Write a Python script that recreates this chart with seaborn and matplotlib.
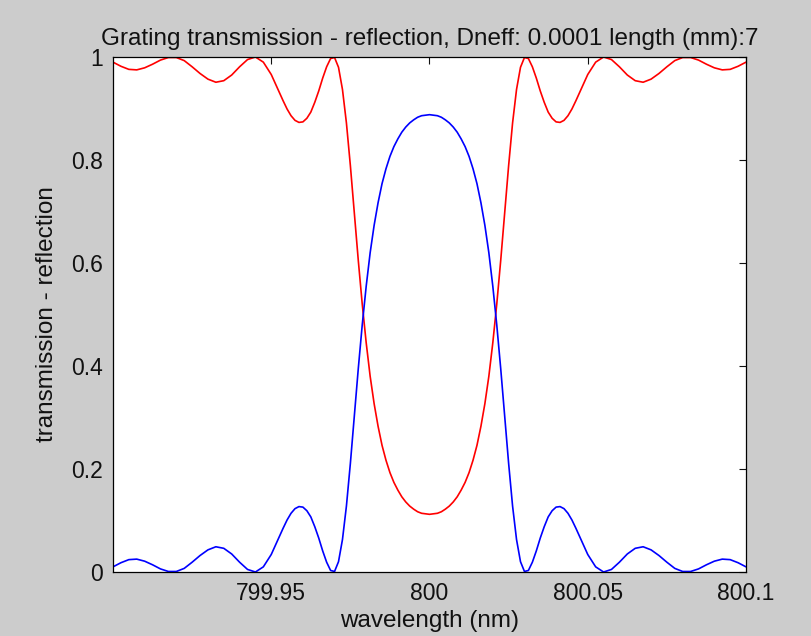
import matplotlib
matplotlib.use("Agg")
import matplotlib.pyplot as plt
import seaborn as sns
import pandas as pd

# Offsets from the Bragg wavelength (nm), left half (symmetric curve)
offset_left = [-0.1, -0.0975, -0.095, -0.0925, -0.09, -0.0875, -0.085, -0.0825, -0.08, -0.0775,
               -0.075, -0.0725, -0.07, -0.0675, -0.065, -0.0625, -0.06, -0.0575, -0.055, -0.0525,
               -0.05, -0.0475, -0.04625, -0.045, -0.04375, -0.0425, -0.04125, -0.04, -0.03875, -0.0375,
               -0.03625, -0.035, -0.03375, -0.0325, -0.03125,
               -0.03, -0.02875, -0.0275, -0.02625, -0.025, -0.02375, -0.0225, -0.02125, -0.02, -0.01875,
               -0.0175, -0.01625, -0.015, -0.01375, -0.0125, -0.01125, -0.01, -0.00875, -0.0075, -0.00625,
               -0.005, -0.00375, -0.0025, -0.00125]
refl_left = [0.010, 0.018, 0.024, 0.025, 0.021, 0.014, 0.006, 0.001, 0.001, 0.007,
             0.019, 0.032, 0.043, 0.049, 0.046, 0.035, 0.019, 0.005, 0.000, 0.010,
             0.034, 0.068, 0.085, 0.101, 0.114, 0.123, 0.127, 0.126, 0.119, 0.107,
             0.088, 0.066, 0.041, 0.019, 0.003,
             0.001, 0.020, 0.063, 0.128, 0.211, 0.303, 0.395, 0.480, 0.555, 0.620,
             0.673, 0.717, 0.754, 0.783, 0.807, 0.826, 0.841, 0.854, 0.864, 0.872,
             0.878, 0.883, 0.886, 0.887]
trans_left = [0.990, 0.982, 0.976, 0.975, 0.979, 0.986, 0.994, 0.999, 0.999, 0.993,
              0.981, 0.968, 0.957, 0.951, 0.954, 0.965, 0.981, 0.995, 1.000, 0.990,
              0.966, 0.932, 0.915, 0.899, 0.886, 0.877, 0.873, 0.874, 0.881, 0.893,
              0.912, 0.934, 0.959, 0.981, 0.997,
              0.999, 0.980, 0.937, 0.872, 0.789, 0.697, 0.605, 0.520, 0.445, 0.380,
              0.327, 0.283, 0.246, 0.217, 0.193, 0.174, 0.159, 0.146, 0.136, 0.128,
              0.122, 0.117, 0.114, 0.113]
center_refl = 0.888
center_trans = 0.112
bragg_nm = 800.0

x_ticks = [799.95, 800.0, 800.05, 800.1]
x_tick_labels = ["799.95", "800", "800.05", "800.1"]
y_ticks = [0, 0.2, 0.4, 0.6, 0.8, 1.0]
y_tick_labels = ["0", "0.2", "0.4", "0.6", "0.8", "1"]

offsets = offset_left + [0.0] + [-v for v in offset_left[::-1]]
refl = refl_left + [center_refl] + refl_left[::-1]
trans = trans_left + [center_trans] + trans_left[::-1]
wl = [bragg_nm + o for o in offsets]

df = pd.DataFrame({"wavelength": wl, "reflection": refl, "transmission": trans})

sns.set_theme(style="white")
plt.rcParams["font.family"] = ["Liberation Sans", "DejaVu Sans"]

fig = plt.figure(figsize=(8.12, 6.36), dpi=100, facecolor="#cccccc")
ax = fig.add_axes([113 / 812, 1 - 572 / 636, (746 - 113) / 812, (572 - 57) / 636])
ax.set_facecolor("white")

sns.lineplot(data=df, x="wavelength", y="transmission", color="#ff0000", lw=1.2, ax=ax, sort=False)
sns.lineplot(data=df, x="wavelength", y="reflection", color="#0000ff", lw=1.2, ax=ax, sort=False)

ax.set_xlim(799.9, 800.1)
ax.set_ylim(0, 1)
ax.set_xticks(x_ticks)
ax.set_xticklabels(x_tick_labels)
ax.set_yticks(y_ticks)
ax.set_yticklabels(y_tick_labels)
ax.tick_params(direction="in", top=True, right=True, length=5, width=0.8,
               labelsize=16.5, colors="#111111", pad=7)
for s in ax.spines.values():
    s.set_color("black")
    s.set_linewidth(0.9)

ax.set_title("Grating transmission - reflection, Dneff: 0.0001 length (mm):7",
             fontsize=17.5, color="#111111", pad=9)
ax.set_xlabel("wavelength (nm)", fontsize=17.5, color="#111111", labelpad=4)
ax.set_ylabel("transmission - reflection", fontsize=17.5, color="#111111", labelpad=10)

fig.savefig("out.png", dpi=100, facecolor=fig.get_facecolor())
